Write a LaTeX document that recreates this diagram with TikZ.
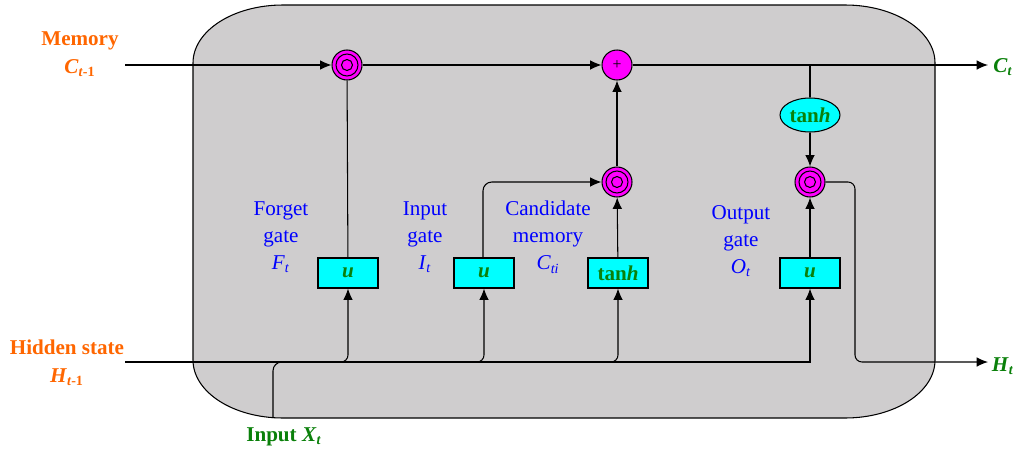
\documentclass[tikz,border=0pt]{standalone}
\usepackage{fontspec}
\setmainfont{Liberation Serif}
\usepackage{tikz}
\usetikzlibrary{arrows.meta, shapes.geometric, positioning, calc}

\definecolor{cellgray}{HTML}{CFCDCE}
\definecolor{gatecyan}{HTML}{00FFFF}
\definecolor{opmagenta}{HTML}{FF00FF}
\definecolor{memorange}{HTML}{FF6600}
\definecolor{outgreen}{HTML}{0A800A}
\definecolor{lblblue}{HTML}{0000FF}

\tikzstyle{gatebox} = [
  rectangle, draw, fill=gatecyan, minimum width=1.2cm, minimum height=0.6cm,
  inner sep=0pt, text=outgreen, font=\fontsize{12}{14}\selectfont\bfseries
]
\tikzstyle{opnode} = [circle, draw, fill=opmagenta, minimum size=0.6cm, inner sep=0pt]
\tikzstyle{mulnode} = [opnode, path picture={
  \draw (path picture bounding box.center) circle (0.22cm) circle (0.11cm);}]
\tikzstyle{gatelbl} = [align=center, text=lblblue, font=\fontsize{12}{15.5}\selectfont]
\tikzstyle{iolbl} = [align=center, font=\fontsize{12}{16}\selectfont\bfseries]
\tikzstyle{arrow} = [-{Latex[length=6.5pt,width=5.5pt]}]

\begin{document}
\begin{tikzpicture}[x=0.02cm, y=-0.02cm, line width=0.6pt]
  \useasboundingbox (0,0) rectangle (1020,453);

  % Cell
  \draw[fill=cellgray] (283,5) -- (845,5) .. controls (895,5) and (935,31) .. (935,63)
    -- (935,360) .. controls (935,392) and (895,418) .. (845,418)
    -- (283,418) .. controls (233,418) and (193,392) .. (193,360)
    -- (193,63) .. controls (193,31) and (233,5) .. (283,5) -- cycle;

  % Inputs and outputs
  \node[iolbl, text=memorange] (memlbl) at (80,54) {Memory\\\textit{C}\textsubscript{\textit{t}-1}};
  \node[iolbl, text=memorange] (hidlbl) at (67,363) {Hidden state\\\textit{H}\textsubscript{\textit{t}-1}};
  \node[iolbl, text=outgreen] (ctlbl) at (1003,67) {\textit{C}\textsubscript{\textit{t}}};
  \node[iolbl, text=outgreen] (htlbl) at (1003,366) {\textit{H}\textsubscript{\textit{t}}};
  \node[iolbl, text=outgreen] (xlbl) at (284,437) {Input \textit{X}\textsubscript{\textit{t}}};
  \coordinate (cin) at (125,65);
  \coordinate (cout) at (988,65);
  \coordinate (hin) at (125,362);
  \coordinate (hout) at (988,362);
  \coordinate (xin) at (273,418);
  \coordinate (xjoin) at (310,362);
  \coordinate (hturn) at (855,362);

  % Operations
  \node[mulnode] (fmul) at (347,65) {};
  \node[opnode, font=\fontsize{9}{9}\selectfont] (plus) at (617,65) {+};
  \node[mulnode] (imul) at (617,182) {};
  \node[mulnode] (omul) at (810,182) {};
  \node[ellipse, draw, fill=gatecyan, minimum width=1.2cm, minimum height=0.68cm, inner sep=0pt,
    text=outgreen, font=\fontsize{12}{14}\selectfont\bfseries] (tanhc) at (810,115) {tan\textit{h}};

  % Gates
  \node[gatebox] (fbox) at (348,273) {\textit{u}};
  \node[gatebox] (ibox) at (484,273) {\textit{u}};
  \node[gatebox] (cbox) at (618,273) {tan\textit{h}};
  \node[gatebox] (obox) at (810,273) {\textit{u}};

  \node[gatelbl] (flbl) at (281,237) {Forget\\gate\\\textit{F}\textsubscript{\textit{t}}};
  \node[gatelbl] (ilbl) at (425,237) {Input\\gate\\\textit{I}\textsubscript{\textit{t}}};
  \node[gatelbl] (clbl) at (548,237) {Candidate\\memory\\\textit{C}\textsubscript{\textit{ti}}};
  \node[gatelbl] (olbl) at (741,241) {Output\\gate\\\textit{O}\textsubscript{\textit{t}}};

  % Memory path
  \draw[arrow] (cin) -- (fmul);
  \draw[arrow] (fmul) -- (plus);
  \draw[arrow] (plus) -- (cout);
  \draw (tanhc.north |- plus) -- (tanhc);
  \draw[arrow] (tanhc) -- (omul);
  \draw (fbox) -- (fmul);
  \draw[arrow, rounded corners=5] (ibox.north -| 483,0) |- (imul);
  \draw[arrow] (cbox) -- (imul);
  \draw[arrow] (imul) -- (plus);
  \draw[arrow] (obox) -- (omul);
  \draw[arrow, rounded corners=4] (omul) -| (hturn) -- (hout);

  % Hidden state and input
  \draw[arrow] (hin) -| (obox);
  \draw[rounded corners=5] (xin) |- (xjoin);
  \foreach \b in {fbox, ibox, cbox}
    \draw[arrow, rounded corners=4] ($(hin -| \b)+(-10,0)$) -| (\b);

\end{tikzpicture}
\end{document}
